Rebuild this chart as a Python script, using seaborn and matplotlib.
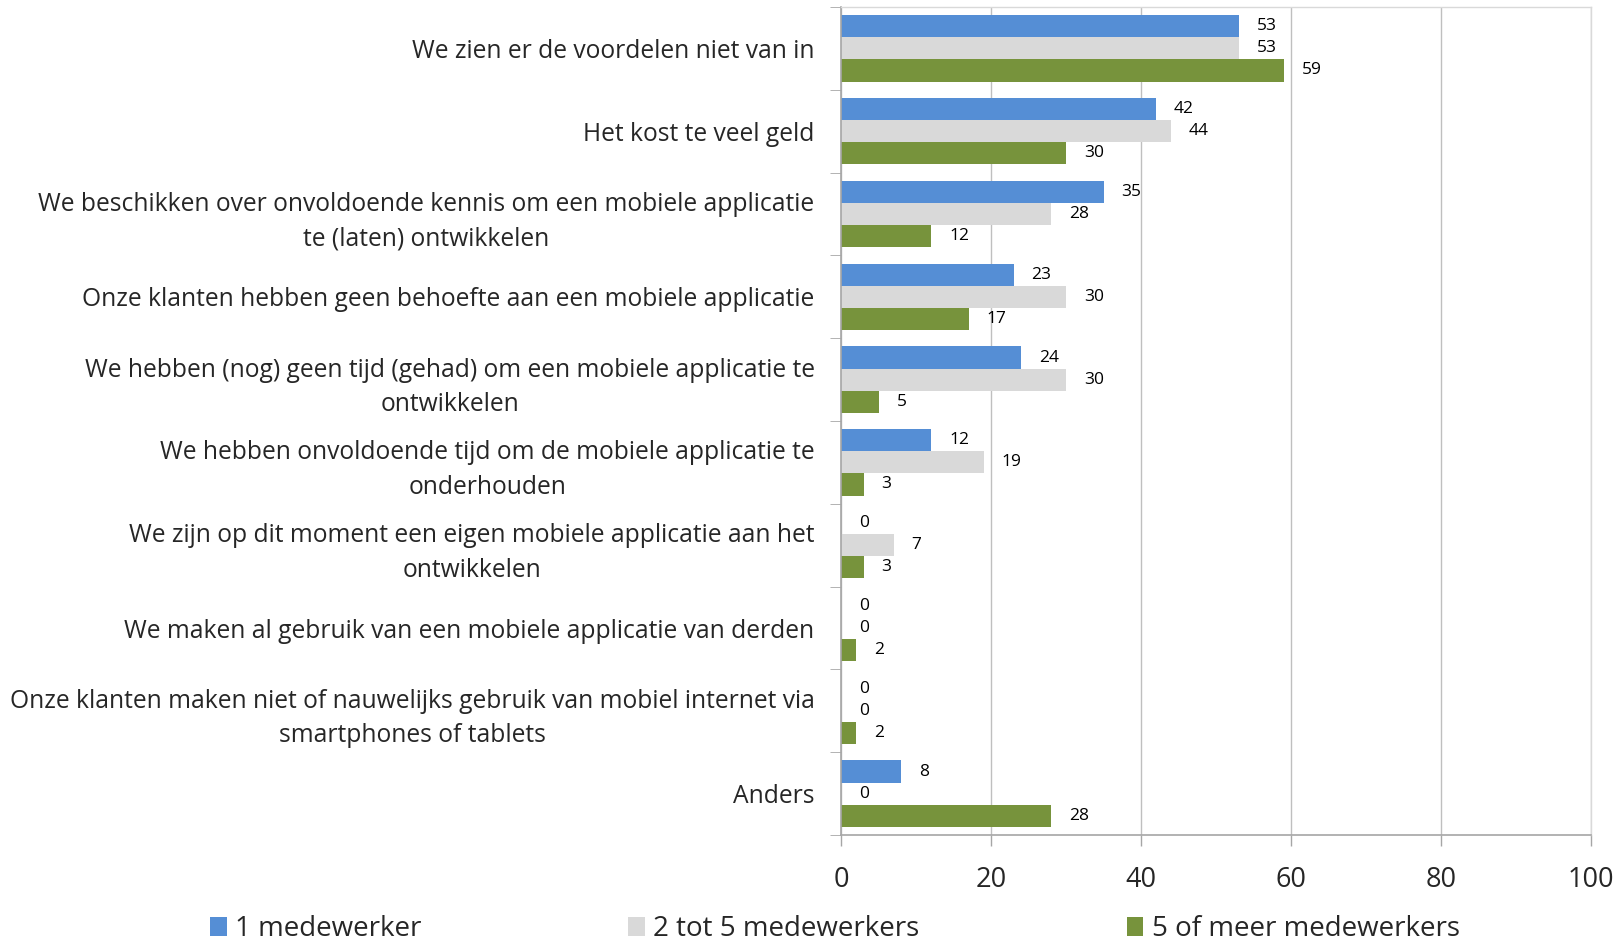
import matplotlib
matplotlib.use("Agg")
import matplotlib.pyplot as plt
import seaborn as sns
import pandas as pd
import numpy as np

categories = [
    "We zien er de voordelen niet van in",
    "Het kost te veel geld",
    "We beschikken over onvoldoende kennis om een mobiele applicatie\nte (laten) ontwikkelen",
    "Onze klanten hebben geen behoefte aan een mobiele applicatie",
    "We hebben (nog) geen tijd (gehad) om een mobiele applicatie te\nontwikkelen",
    "We hebben onvoldoende tijd om de mobiele applicatie te\nonderhouden",
    "We zijn op dit moment een eigen mobiele applicatie aan het\nontwikkelen",
    "We maken al gebruik van een mobiele applicatie van derden",
    "Onze klanten maken niet of nauwelijks gebruik van mobiel internet via\nsmartphones of tablets",
    "Anders",
]
series_names = ["1 medewerker", "2 tot 5 medewerkers", "5 of meer medewerkers"]
one_emp = [53, 42, 35, 23, 24, 12, 0, 0, 0, 8]
two_to_five = [53, 44, 28, 30, 30, 19, 7, 0, 0, 0]
five_plus = [59, 30, 12, 17, 5, 3, 3, 2, 2, 28]
colors = ["#558ED5", "#D9D9D9", "#77933C"]
x_ticks = [0, 20, 40, 60, 80, 100]

rows = []
for name, vals in zip(series_names, [one_emp, two_to_five, five_plus]):
    for c, v in zip(categories, vals):
        rows.append({"category": c, "value": v, "series": name})
df = pd.DataFrame(rows)

sns.set_style("white")
plt.rcParams["font.family"] = ["Open Sans", "DejaVu Sans"]

fig = plt.figure(figsize=(16.21, 9.42), dpi=100)
ax = fig.add_axes([841 / 1621, 1 - 835 / 942, 750 / 1621, 828 / 942])

sns.barplot(data=df, y="category", x="value", hue="series", orient="h",
            palette=colors, order=categories, hue_order=series_names,
            width=0.8, linewidth=0, saturation=1, ax=ax, legend=True)

for cont in ax.containers:
    ax.bar_label(cont, fmt="%d", padding=13, fontsize=12.5, color="black")

ax.set_xlim(0, 100)
ax.set_ylim(len(categories) - 0.5, -0.5)
ax.set_xticks(x_ticks)
ax.set_xticklabels([str(t) for t in x_ticks], fontsize=19.5)
ax.tick_params(axis="x", length=8, width=1, color="#A6A6A6", pad=14, direction="out", bottom=True)
ax.set_yticks(range(len(categories)))
ax.set_yticklabels(categories, fontsize=17.7)
for lbl in ax.get_yticklabels():
    lbl.set_multialignment("center")
    lbl.set_linespacing(1.5)
ax.tick_params(axis="y", length=0, pad=19)
ax.set_yticks(np.arange(-0.5, len(categories) + 0.5, 1), minor=True)
ax.tick_params(axis="y", which="minor", length=8, color="#A6A6A6", left=True)
ax.set_xlabel("")
ax.set_ylabel("")

ax.grid(axis="x", color="#BFBFBF", linewidth=1)
ax.set_axisbelow(True)
for side in ["left", "bottom"]:
    ax.spines[side].set_color("#A6A6A6")
    ax.spines[side].set_linewidth(1.2)
for side in ["top", "right"]:
    ax.spines[side].set_color("#D9D9D9")
    ax.spines[side].set_linewidth(1)

leg = ax.legend(loc="center", ncol=3, frameon=False, fontsize=20, handlelength=0.6,
                handleheight=0.7, handletextpad=0.3, columnspacing=7.45)
leg.set_bbox_to_anchor((0.515, 1 - 929 / 942), transform=fig.transFigure)

fig.savefig("out.png", dpi=100)
